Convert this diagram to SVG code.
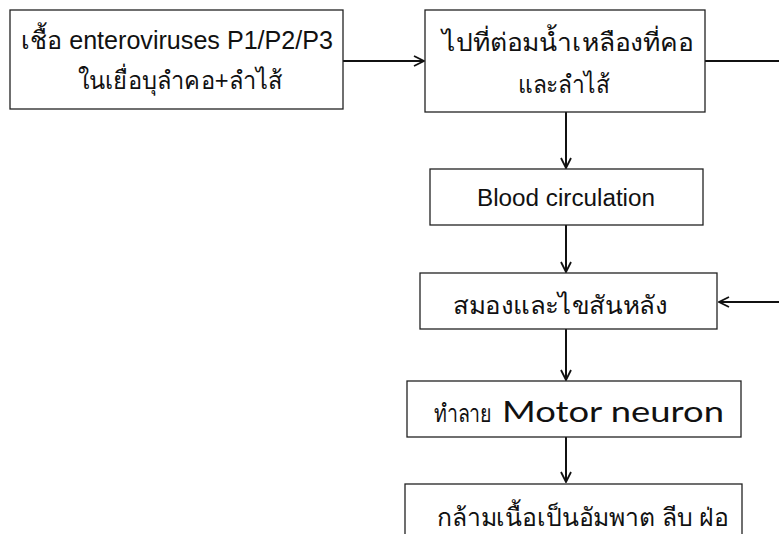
<svg xmlns="http://www.w3.org/2000/svg" width="779" height="534" viewBox="0 0 779 534">
<style>
.box{fill:#fff;stroke:#222;stroke-width:1.3}
.t{font-family:"Liberation Sans","Noto Sans",sans-serif;font-size:25px;fill:#111;text-anchor:middle}
.lat{font-family:"Liberation Sans",Arial,sans-serif;font-size:23px;fill:#111;text-anchor:middle}
.geo{font-family:"Lato","Liberation Sans",sans-serif;font-size:28px;fill:#111}
.c{fill:none;stroke:#111;stroke-width:2}
</style>
<defs>
<marker id="ah" viewBox="0 0 12 12" refX="11" refY="6" markerWidth="12" markerHeight="12" markerUnits="userSpaceOnUse" orient="auto">
<path d="M1,1 L11,6 L1,11" fill="none" stroke="#111" stroke-width="1.8"/>
</marker>
</defs>
<rect width="779" height="534" fill="#fff"/>
<g id="connectors">
<line class="c" x1="343" y1="61" x2="424" y2="61" marker-end="url(#ah)"/>
<line class="c" x1="705" y1="61" x2="779" y2="61"/>
<line class="c" x1="566" y1="112" x2="566" y2="168" marker-end="url(#ah)"/>
<line class="c" x1="566" y1="225" x2="566" y2="272" marker-end="url(#ah)"/>
<line class="c" x1="779" y1="302" x2="719" y2="302" marker-end="url(#ah)"/>
<line class="c" x1="566" y1="329" x2="566" y2="380" marker-end="url(#ah)"/>
<line class="c" x1="566" y1="437" x2="566" y2="482" marker-end="url(#ah)"/>
</g>
<g id="n1">
<rect class="box" x="10" y="10" width="333" height="99"/>
<text class="t" x="177" y="49" textLength="312" lengthAdjust="spacingAndGlyphs">เชื้อ enteroviruses P1/P2/P3</text>
<text class="t" x="180" y="89" textLength="205" lengthAdjust="spacingAndGlyphs">ในเยื่อบุลำคอ+ลำไส้</text>
</g>
<g id="n2">
<rect class="box" x="425" y="10" width="280" height="102"/>
<text class="t" x="568" y="51" textLength="252" lengthAdjust="spacingAndGlyphs">ไปที่ต่อมน้ำเหลืองที่คอ</text>
<text class="t" x="564" y="93" textLength="92" lengthAdjust="spacingAndGlyphs">และลำไส้</text>
</g>
<g id="n3">
<rect class="box" x="430" y="169" width="273" height="56"/>
<text class="lat" x="566" y="206" textLength="178" lengthAdjust="spacingAndGlyphs">Blood circulation</text>
</g>
<g id="n4">
<rect class="box" x="420" y="273" width="297" height="56"/>
<text class="t" x="560" y="314" textLength="214" lengthAdjust="spacingAndGlyphs">สมองและไขสันหลัง</text>
</g>
<g id="n5">
<rect class="box" x="407" y="381" width="334" height="56"/>
<text class="t" x="463" y="422" style="font-size:25px" textLength="58" lengthAdjust="spacingAndGlyphs">ทำลาย</text>
<text class="geo" x="502" y="422" textLength="222" lengthAdjust="spacingAndGlyphs">Motor neuron</text>
</g>
<g id="n6">
<rect class="box" x="405" y="484" width="337" height="60"/>
<text class="t" x="583" y="526" textLength="292" lengthAdjust="spacingAndGlyphs">กล้ามเนื้อเป็นอัมพาต ลีบ ฝ่อ</text>
</g>
</svg>
